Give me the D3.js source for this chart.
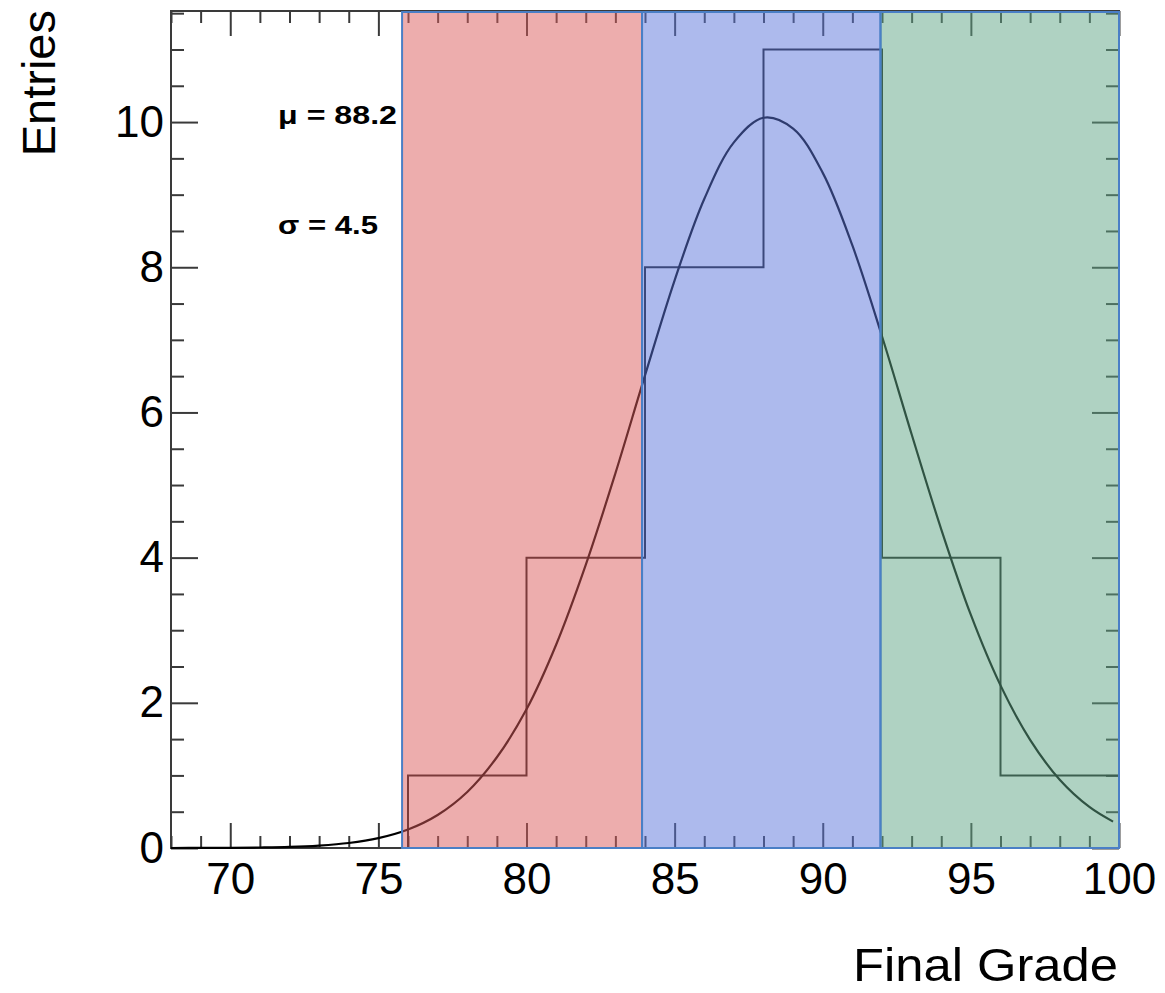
<!DOCTYPE html>
<html>
<head>
<meta charset="utf-8">
<script src="https://cdn.jsdelivr.net/npm/d3@7"></script>
<style>
  html, body { margin: 0; padding: 0; background: #fff; }
  svg { display: block; }
  text { font-family: "Liberation Sans", Arial, Helvetica, sans-serif; fill: #000; }
</style>
</head>
<body>
<svg id="chart" width="1165" height="993"></svg>
<script>
// ---------- data ----------
const binEdges = [76, 80, 84, 88, 92, 96, 100];
const binCounts = [1, 4, 8, 11, 4, 1];

const fitX = [68, 69, 70, 71, 72, 73, 74, 75, 76, 77, 78, 79, 80, 81, 82, 83, 84,
              85, 86, 87, 88, 89, 90, 91, 92, 93, 94, 95, 96, 97, 98, 99, 99.8];
const fitY = [0.0, 0.001, 0.003, 0.007, 0.015, 0.034, 0.069, 0.136, 0.255, 0.455, 0.772,
              1.25, 1.91, 2.80, 3.90, 5.16, 6.51, 7.82, 8.94, 9.72, 10.06, 9.91, 9.30,
              8.30, 7.05, 5.70, 4.39, 3.21, 2.24, 1.49, 0.94, 0.565, 0.363];

const regionEdges = [75.8, 83.9, 91.95, 100];
const regionColors = ["#db5b5b", "#5b75db", "#5fa585"];

const xMajorTicks = [70, 75, 80, 85, 90, 95, 100];
const xMinorTicks = [68, 69, 71, 72, 73, 74, 76, 77, 78, 79, 81, 82, 83, 84, 86, 87, 88, 89, 91, 92, 93, 94, 96, 97, 98, 99];
const yMajorTicks = [0, 2, 4, 6, 8, 10];
const yMinorTicks = [0.5, 1, 1.5, 2.5, 3, 3.5, 4.5, 5, 5.5, 6.5, 7, 7.5, 8.5, 9, 9.5, 10.5, 11, 11.5];

const fitLabels = ["\u03bc = 88.2", "\u03c3 = 4.5"];
const xTitle = "Final Grade";
const yTitle = "Entries";

// ---------- layout ----------
const L = 171, R = 1119, T = 11, B = 848;
const svg = d3.select("#chart");
const x = d3.scaleLinear().domain([68, 100]).range([L, R]);
const y = d3.scaleLinear().domain([0, 11.53]).range([B, T]);

const axisColor = "#3a3a3a";
const labelFont = "Liberation Sans, Arial, sans-serif";
function styleAxis(g) {
  g.select(".domain").remove();
  g.selectAll(".tick line").attr("stroke", axisColor).attr("stroke-width", 2);
}

// bottom
svg.append("g").attr("transform", `translate(0,${B})`)
  .call(d3.axisBottom(x).tickValues(xMajorTicks).tickSize(-25).tickPadding(15).tickFormat(d3.format("d")))
  .call(styleAxis)
  .call(g => g.selectAll("text").attr("font-size", 44).style("font-family", labelFont).attr("fill", "#000"));
svg.append("g").attr("transform", `translate(0,${B})`)
  .call(d3.axisBottom(x).tickValues(xMinorTicks).tickSize(-12).tickFormat(""))
  .call(styleAxis);
// top
svg.append("g").attr("transform", `translate(0,${T})`)
  .call(d3.axisTop(x).tickValues(xMajorTicks).tickSize(-25).tickFormat(""))
  .call(styleAxis);
svg.append("g").attr("transform", `translate(0,${T})`)
  .call(d3.axisTop(x).tickValues(xMinorTicks).tickSize(-12).tickFormat(""))
  .call(styleAxis);
// left
svg.append("g").attr("transform", `translate(${L},0)`)
  .call(d3.axisLeft(y).tickValues(yMajorTicks).tickSize(-27).tickPadding(7).tickFormat(d3.format("d")))
  .call(styleAxis)
  .call(g => g.selectAll("text").attr("font-size", 44).style("font-family", labelFont).attr("fill", "#000"));
svg.append("g").attr("transform", `translate(${L},0)`)
  .call(d3.axisLeft(y).tickValues(yMinorTicks).tickSize(-13).tickFormat(""))
  .call(styleAxis);
// right
svg.append("g").attr("transform", `translate(${R},0)`)
  .call(d3.axisRight(y).tickValues(yMajorTicks).tickSize(-27).tickFormat(""))
  .call(styleAxis);
svg.append("g").attr("transform", `translate(${R},0)`)
  .call(d3.axisRight(y).tickValues(yMinorTicks).tickSize(-13).tickFormat(""))
  .call(styleAxis);

// frame
svg.append("rect").attr("x", L).attr("y", T).attr("width", R - L).attr("height", B - T)
  .attr("fill", "none").attr("stroke", axisColor).attr("stroke-width", 2);

// histogram step line
const stepPts = [[binEdges[0], 0]];
binCounts.forEach((c, i) => {
  stepPts.push([binEdges[i], c]);
  stepPts.push([binEdges[i + 1], c]);
});
svg.append("path")
  .attr("d", d3.line().x(d => x(d[0])).y(d => y(d[1]))(stepPts))
  .attr("fill", "none").attr("stroke", "#1a1a1a").attr("stroke-width", 2);

// fit curve
svg.append("path")
  .datum(fitX.map((v, i) => [v, fitY[i]]))
  .attr("d", d3.line().x(d => x(d[0])).y(d => y(d[1])).curve(d3.curveCatmullRom))
  .attr("fill", "none").attr("stroke", "#000").attr("stroke-width", 2.2);

// shaded regions (overlay)
regionColors.forEach((c, i) => {
  svg.append("rect")
    .attr("x", x(regionEdges[i])).attr("y", T + 1)
    .attr("width", x(regionEdges[i + 1]) - x(regionEdges[i]))
    .attr("height", B - T - 1)
    .attr("fill", c).attr("fill-opacity", 0.5)
    .attr("stroke", "#4a7fc6").attr("stroke-width", 2);
});

// fit labels
svg.append("text").attr("x", 278).attr("y", 124).attr("font-size", 26).attr("font-weight", "bold")
  .attr("textLength", 119).attr("lengthAdjust", "spacingAndGlyphs").text(fitLabels[0]);
svg.append("text").attr("x", 278).attr("y", 234).attr("font-size", 26).attr("font-weight", "bold")
  .attr("textLength", 100).attr("lengthAdjust", "spacingAndGlyphs").text(fitLabels[1]);

// axis titles
svg.append("text").attr("x", 1118).attr("y", 981).attr("text-anchor", "end").attr("font-size", 46)
  .attr("textLength", 265).attr("lengthAdjust", "spacingAndGlyphs").text(xTitle);
svg.append("text").attr("transform", "translate(55,10) rotate(-90)").attr("text-anchor", "end").attr("font-size", 47).text(yTitle);
</script>
</body>
</html>
